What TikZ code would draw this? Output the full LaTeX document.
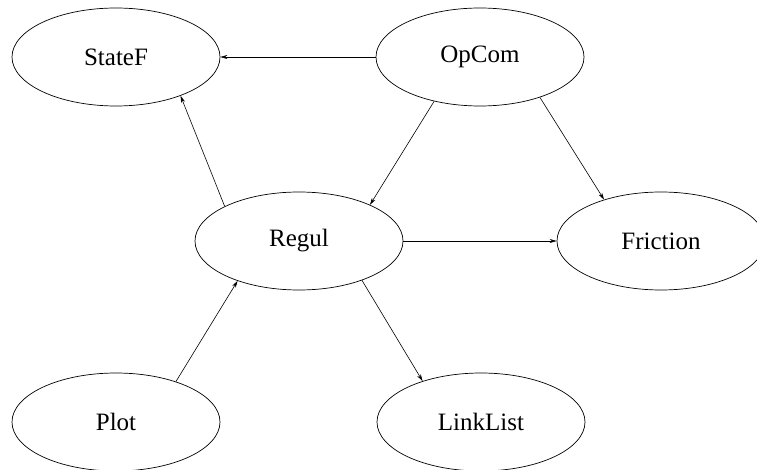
\documentclass[tikz,border=0pt]{standalone}
\usepackage{fontspec}
\setmainfont{Liberation Serif}
\usetikzlibrary{arrows.meta,shapes.geometric}

\begin{document}
\begin{tikzpicture}[x=1pt,y=-1pt,
    module/.style={draw,ellipse,line width=0.7pt,minimum width=208pt,minimum height=98pt,inner sep=0pt,font=\fontsize{25}{29}\selectfont},
    link/.style={line width=0.6pt,-{Stealth[length=7pt,width=4pt]}}]
\useasboundingbox (0,0) rectangle (757,470);

		% modules
		\node[module] (StateF) at (116,57) {StateF};
		\node[module] (OpCom) at (480,57) {OpCom};
		\node[module] (Regul) at (299,241) {Regul};
		\node[module] (Friction) at (661,241) {Friction};
		\node[module] (Plot) at (116,422) {Plot};
		\node[module] (LinkList) at (481,422) {LinkList};

		% calls
		\draw[link] (OpCom.west) -- (StateF.east);
		\draw[link] (Regul.155) -- (StateF.-31);
		\draw[link] (OpCom.224) -- (Regul.27);
		\draw[link] (OpCom.-34) -- (Friction.144);
		\draw[link] (Regul.east) -- (Friction.west);
		\draw[link] (Plot.34) -- (Regul.213);
		\draw[link] (Regul.-32) -- (LinkList.145);
\end{tikzpicture}
\end{document}
